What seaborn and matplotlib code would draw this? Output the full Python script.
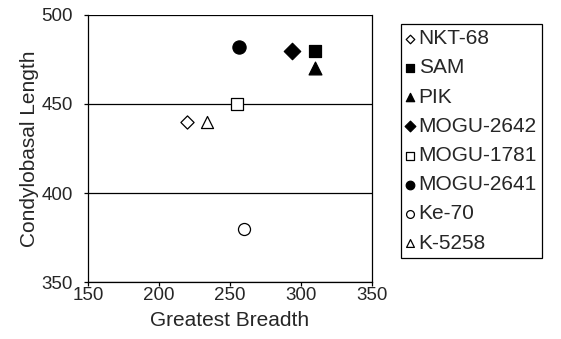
import matplotlib
matplotlib.use("Agg")
import matplotlib.pyplot as plt
import seaborn as sns
import pandas as pd

names = ["NKT-68", "SAM", "PIK", "MOGU-2642", "MOGU-1781", "MOGU-2641", "Ke-70", "K-5258"]
breadth = [220, 310, 310, 294, 255, 256, 260, 234]
length = [440, 480, 470, 480, 450, 482, 380, 440]
markers = ["D", "s", "^", "D", "s", "o", "o", "^"]
filled = [False, True, True, True, False, True, False, False]
sizes = [45, 85, 85, 70, 75, 90, 75, 75]

sns.set_style("white")
plt.rcParams["font.family"] = ["Liberation Sans", "DejaVu Sans"]

FS = 15
TS = 13.5
fig = plt.figure(figsize=(5.61, 3.39), dpi=100)
ax = fig.add_axes([0.157, 0.168, 0.506, 0.788])

for n, x, y, m, f, s in zip(names, breadth, length, markers, filled, sizes):
    df = pd.DataFrame({"x": [x], "y": [y]})
    sns.scatterplot(data=df, x="x", y="y", marker=m, s=s,
                    color="black" if f else "white", edgecolor="black",
                    linewidth=0.9, label=n, ax=ax, zorder=3)

ax.set_xlim(150, 350)
ax.set_ylim(350, 500)
ax.set_xticks([150, 200, 250, 300, 350])
ax.set_yticks([350, 400, 450, 500])
ax.yaxis.grid(True, color="black", linewidth=0.9)
ax.xaxis.grid(False)
for side in ["left", "bottom", "right"]:
    ax.spines[side].set_color("black")
    ax.spines[side].set_linewidth(0.9)
ax.spines["top"].set_visible(False)
ax.tick_params(axis="both", direction="out", length=3, width=0.9, color="black",
               labelsize=TS, left=True, bottom=True)
ax.tick_params(axis="x", pad=0.5)
ax.tick_params(axis="y", pad=8)
ax.set_xlabel("Greatest Breadth", fontsize=FS, labelpad=5)
ax.set_ylabel("Condylobasal Length", fontsize=FS, labelpad=2)

leg = ax.legend(loc="upper left", bbox_to_anchor=(1.102, 0.966), frameon=True,
                fancybox=False, edgecolor="black", framealpha=1, fontsize=FS,
                markerscale=0.65, labelspacing=0.49, handletextpad=0.2,
                handlelength=0.4, borderpad=0.25, borderaxespad=0)
leg.get_frame().set_linewidth(0.9)

fig.savefig("out.png", dpi=100)
